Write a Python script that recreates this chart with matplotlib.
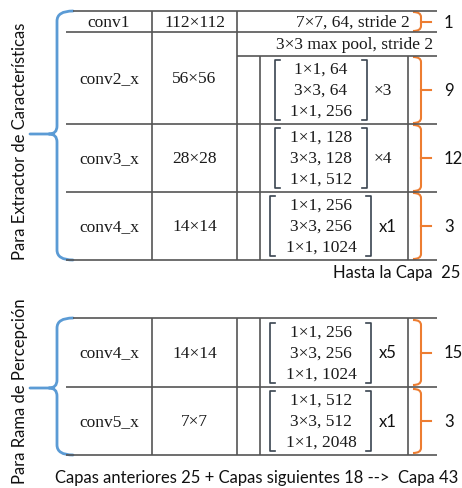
import matplotlib.pyplot as plt
from matplotlib.path import Path
from matplotlib.patches import PathPatch

# ---- data ----
top_stages = ["conv1", "conv2_x", "conv3_x", "conv4_x"]
top_sizes = ["112×112", "56×56", "28×28", "14×14"]
top_blocks = [
    None,
    ["1×1, 64", "3×3, 64", "1×1, 256"],
    ["1×1, 128", "3×3, 128", "1×1, 512"],
    ["1×1, 256", "3×3, 256", "1×1, 1024"],
]
top_repeats = ["", "×3", "×4", "x1"]
top_layers = [1, 9, 12, 3]
conv1_text = "7×7, 64, stride 2"
pool_text = "3×3 max pool, stride 2"

bot_stages = ["conv4_x", "conv5_x"]
bot_sizes = ["14×14", "7×7"]
bot_blocks = [
    ["1×1, 256", "3×3, 256", "1×1, 1024"],
    ["1×1, 512", "3×3, 512", "1×1, 2048"],
]
bot_repeats = ["x5", "x1"]
bot_layers = [15, 3]

top_label = "Para Extractor de Características"
bot_label = "Para Rama de Percepción"
top_note = "Hasta la Capa  25"
bot_note = "Capas anteriores 25 + Capas siguientes 18 -->  Capa 43"

SERIF = "Liberation Serif"
SANS = ["Lato", "DejaVu Sans"]
FS = 12.5  # serif table text
GRID = "#555555"
BLUE = "#5b9bd5"
ORANGE = "#ed7d31"

# column x positions (pixels)
x_left, x_c1, x_c2, x_c3, x_c4, x_right = 66, 152, 237, 260, 408, 437

fig = plt.figure(figsize=(4.62, 4.89), dpi=100)
ax = fig.add_axes([0, 0, 1, 1])
ax.set_xlim(0, 462)
ax.set_ylim(489, 0)
ax.axis("off")


def hline(y, x0=x_left, x1=x_right):
    ax.plot([x0, x1], [y, y], color=GRID, lw=1.2, solid_capstyle="butt")


def vline(x, y0, y1):
    ax.plot([x, x], [y0, y1], color=GRID, lw=1.2, solid_capstyle="butt")


def matrix(rows, rep, y0, y1):
    ym = (y0 + y1) / 2
    wide = max(len(r) for r in rows) > 8
    xl, xr = (270, 371) if wide else (275, 367)
    for i, r in enumerate(rows):
        ax.text(321, ym + (i - 1) * 21, r, family=SERIF, fontsize=FS,
                ha="center", va="center", color="#1a1a1a")
    top, bot = ym - 30, ym + 30
    for x, d in ((xl, 5), (xr, -5)):
        ax.plot([x + d, x, x, x + d], [top, top, bot, bot], color="#3a4450",
                lw=1.2)
    if rep.startswith("×"):
        ax.text(383, ym, rep, family=SERIF, fontsize=FS, ha="center",
                va="center", color="#1a1a1a")
    else:
        ax.text(388, ym, rep, family=SANS, fontsize=12, ha="center",
                va="center", color="#111")


def orange_bracket(y0, y1, label):
    ym = (y0 + y1) / 2
    verts = [(413, y0), (421, y0), (421, y0 + 5), (421, y1 - 5),
             (421, y1), (413, y1)]
    codes = [Path.MOVETO, Path.CURVE3, Path.CURVE3, Path.LINETO,
             Path.CURVE3, Path.CURVE3]
    ax.add_patch(PathPatch(Path(verts, codes), fc="none", ec=ORANGE, lw=1.5))
    ax.plot([421, 431], [ym, ym], color=ORANGE, lw=1.5)
    ax.text(444, ym, str(label), family=SANS, fontsize=12, ha="left",
            va="center", color="#111")


def blue_brace(y0, y1, ym):
    xs, xe, xt = 57, 73, 30
    verts = [(xe, y0), (xs, y0), (xs, y0 + 10), (xs, ym - 8),
             (xs, ym), (xs - 8, ym), (xt, ym),
             (xs - 8, ym), (xs, ym), (xs, ym + 8),
             (xs, y1 - 10), (xs, y1), (xe, y1)]
    codes = [Path.MOVETO, Path.CURVE3, Path.CURVE3, Path.LINETO,
             Path.CURVE3, Path.CURVE3, Path.LINETO,
             Path.MOVETO, Path.CURVE3, Path.CURVE3,
             Path.LINETO, Path.CURVE3, Path.CURVE3]
    ax.add_patch(PathPatch(Path(verts, codes), fc="none", ec=BLUE, lw=2.0,
                           capstyle="round"))


# ---- top table ----
ty = [12, 33, 57, 125, 193, 261]
hline(ty[0], 73)
hline(ty[1])
hline(ty[2], x_c2)
for y in ty[3:]:
    hline(y)
vline(x_c1, ty[0], ty[-1])
vline(x_c2, ty[0], ty[-1])
vline(x_c3, ty[2], ty[-1])
vline(x_c4, ty[2], ty[-1])

# conv1 row
ax.text((x_left + x_c1) / 2, 23, top_stages[0], family=SERIF, fontsize=FS,
        ha="center", va="center", color="#1a1a1a")
ax.text((x_c1 + x_c2) / 2, 23, top_sizes[0], family=SERIF, fontsize=FS,
        ha="center", va="center", color="#1a1a1a")
ax.text(410, 23, conv1_text, family=SERIF, fontsize=FS, ha="right",
        va="center", color="#1a1a1a")
ax.text(433, 45, pool_text, family=SERIF, fontsize=FS, ha="right",
        va="center", color="#1a1a1a")

row_bounds = [(ty[0], ty[1]), (ty[2], ty[3]), (ty[3], ty[4]), (ty[4], ty[5])]
for i in range(1, 4):
    y0, y1 = row_bounds[i]
    ylab = (ty[1] + ty[3]) / 2 if i == 1 else (y0 + y1) / 2
    ax.text((x_left + x_c1) / 2, ylab, top_stages[i], family=SERIF,
            fontsize=FS, ha="center", va="center", color="#1a1a1a")
    ax.text((x_c1 + x_c2) / 2, ylab, top_sizes[i], family=SERIF,
            fontsize=FS, ha="center", va="center", color="#1a1a1a")
    matrix(top_blocks[i], top_repeats[i], y0, y1)

for (y0, y1), n in zip(row_bounds, top_layers):
    orange_bracket(y0 + 1, y1 - 1, n)

blue_brace(ty[0], ty[-1], 135)
ax.text(20, 141, top_label, family=SANS, fontsize=12, rotation=90,
        ha="center", va="center", color="#111")
ax.text(460, 273, top_note, family=SANS, fontsize=12, ha="right",
        va="center", color="#111")

# ---- bottom table ----
by = [319, 388, 456]
hline(by[0], 73)
for y in by[1:]:
    hline(y)
for x in (x_c1, x_c2, x_c3, x_c4):
    vline(x, by[0], by[-1])

for i in range(2):
    y0, y1 = by[i], by[i + 1]
    ym = (y0 + y1) / 2
    ax.text((x_left + x_c1) / 2, ym, bot_stages[i], family=SERIF,
            fontsize=FS, ha="center", va="center", color="#1a1a1a")
    ax.text((x_c1 + x_c2) / 2, ym, bot_sizes[i], family=SERIF,
            fontsize=FS, ha="center", va="center", color="#1a1a1a")
    matrix(bot_blocks[i], bot_repeats[i], y0, y1)
    orange_bracket(y0 + 2, y1 - 2, bot_layers[i])

blue_brace(by[0], by[-1], 389)
ax.text(20, 391, bot_label, family=SANS, fontsize=12, rotation=90,
        ha="center", va="center", color="#111")
ax.text(257, 478, bot_note, family=SANS, fontsize=12, ha="center",
        va="center", color="#111")

fig.savefig("out.png", dpi=100)
